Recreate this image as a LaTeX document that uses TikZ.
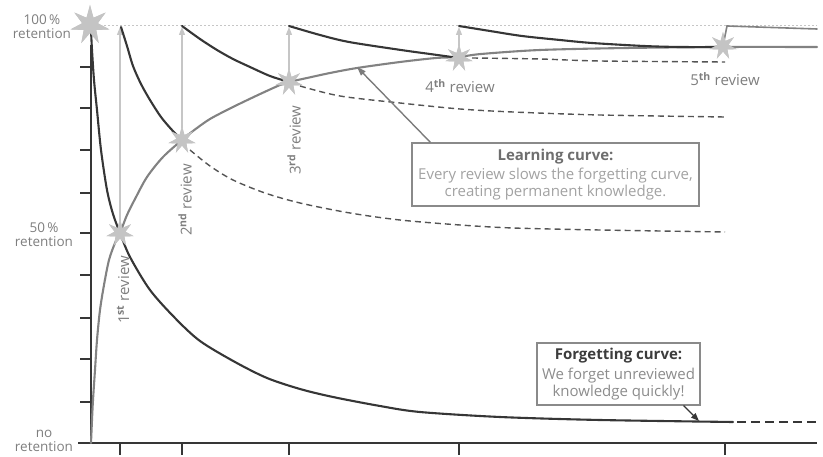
\documentclass[tikz,border=0pt]{standalone}
\usepackage{fontspec}
\setmainfont{Open Sans}
\usetikzlibrary{shapes.geometric,arrows.meta,calc}
\definecolor{dk}{HTML}{363636}
\definecolor{lc}{HTML}{828282}
\definecolor{st}{HTML}{C4C4C4}
\definecolor{ar}{HTML}{C6C6C6}
\definecolor{tx}{HTML}{7E7E7E}
\definecolor{bx}{HTML}{8A8A8A}
\definecolor{lbt}{HTML}{6E6E6E}
\definecolor{lbb}{HTML}{A2A2A2}
\definecolor{fbt}{HTML}{3C3C3C}
\definecolor{fbb}{HTML}{8C8C8C}
\begin{document}
\begin{tikzpicture}[x=1pt,y=-1pt,
  fcurve/.style={draw=dk, line width=2.1pt, line cap=round},
  lcurve/.style={draw=lc, line width=2.1pt, line cap=round},
  dcurve/.style={draw=dk!85, line width=1.4pt, dash pattern=on 6pt off 4pt},
  uparrow/.style={draw=ar, line width=1.1pt, -{Triangle[length=8pt,width=6pt]}},
  revstar/.style={star, star points=7, star point ratio=2.5, fill=st, draw=none, minimum size=28pt, inner sep=0pt},
  axisline/.style={draw=dk, line width=1.4pt},
  tickline/.style={draw=dk, line width=1.2pt},
  ylab/.style={text=tx, align=center, font=\fontsize{13.5}{14}\selectfont},
  revlab/.style={text=tx, font=\fontsize{15}{16}\selectfont},
  infobox/.style={draw=bx, line width=1.2pt, inner sep=0pt, align=center, font=\fontsize{15}{17}\selectfont}
]
\useasboundingbox (0,0) rectangle (823,457);

% dotted 100% line
\draw[ar, line width=0.9pt, dash pattern=on 1.5pt off 2.5pt] (104,25) -- (817,25);

% axes
\coordinate (ytop) at (91,45);
\coordinate (orig) at (91,443);
\coordinate (xl) at (78,443);
\coordinate (xr) at (817,443);
\draw[axisline] (ytop) -- (orig);
\draw[axisline] (xl) -- (xr);
\foreach \y in {67,108,150,193,233,275,318,359,402}
  \draw[tickline] (80,\y) -- (91,\y);
\foreach \x in {120,182,289,459,725}
  \draw[tickline] (\x,443) -- (\x,455);

% stars (nodes)
\node[revstar, minimum size=40pt] (s0) at (90,25) {};
\node[revstar] (s1) at (120,233) {};
\node[revstar] (s2) at (182,140) {};
\node[revstar] (s3) at (289,82) {};
\node[revstar] (s4) at (459,58) {};
\node[revstar] (s5) at (723,46) {};

% up arrows from reviews back to 100%
\coordinate (t1) at (120,27);
\coordinate (t2) at (182,27);
\coordinate (t3) at (289,27);
\coordinate (t4) at (459,27);
\draw[uparrow] (s1.center) ++(0,-12) -- (t1);
\draw[uparrow] (s2.center) ++(0,-12) -- (t2);
\draw[uparrow] (s3.center) ++(0,-12) -- (t3);
\draw[uparrow] (s4.center) ++(0,-12) -- (t4);

% dashed (untaken) forgetting continuations
\draw[dcurve] plot[smooth] coordinates {(190,150) (210,166) (233,180) (265,193) (300,203) (350,213) (400,220) (460,225) (513,228) (600,230) (725,232)};
\draw[dcurve] plot[smooth] coordinates {(300,86) (340,96) (400,103) (460,109) (513,112) (600,115) (725,117)};
\draw[dcurve] plot[smooth] coordinates {(472,58) (540,59) (600,61) (725,62)};

% learning curve
\draw[lcurve] plot[smooth] coordinates {(91,443) (92,420) (93,400) (95,370) (97,340) (100,310) (104,285) (109,260) (115,243) (120,233) (127,215) (135,199) (147,177) (163,157) (182,140) (193,131) (210,119) (233,107) (258,95) (280,85) (289,82) (307,78) (330,73) (357,68) (400,62) (436,58) (459,57) (481,54) (540,50) (626,48) (723,47) (817,47)};

% initial forgetting curve
\draw[fcurve] plot[smooth] coordinates {(91,30) (92,50) (94,80) (97,110) (101,150) (107,190) (113,214) (120,233) (130,257) (150,290) (175,318) (200,341) (235,362) (267,378) (300,389) (333,397) (380,406) (420,412) (500,417) (600,420) (733,422)};
\draw[fcurve, line cap=butt, dash pattern=on 9pt off 5pt] (737,422) -- (817,422);

% forgetting after each review
\draw[fcurve] plot[smooth] coordinates {(121,27) (127,46) (133,66) (141,84) (150,100) (161,117) (172,130) (182,140)};
\draw[fcurve] plot[smooth] coordinates {(182,26) (200,39) (217,50) (233,59) (250,67) (270,76) (289,82)};
\draw[fcurve] plot[smooth] coordinates {(289,26) (320,35) (349,42) (401,50) (430,54) (459,58)};
\draw[fcurve] plot[smooth] coordinates {(459,26) (490,31) (522,36) (560,40) (592,43) (644,46) (680,47) (723,47)};
\coordinate (f5a) at (727,26);
\coordinate (f5b) at (817,29);
\draw[lcurve, line width=1.6pt] (s5.center) -- (f5a) -- (f5b);

% redraw stars on top
\node[revstar, minimum size=40pt] at (s0) {};
\node[revstar] at (s1) {};
\node[revstar] at (s2) {};
\node[revstar] at (s3) {};
\node[revstar] at (s4) {};
\node[revstar] at (s5) {};

% y labels
\node[ylab] (l100) at (42,27) {100\,\%\\retention};
\node[ylab] (l50) at (44,235) {50\,\%\\retention};
\node[ylab] (l0) at (44,441) {no\\retention};

% review labels
\node[revlab, rotate=90] (r1) at (123,290) {1\textsuperscript{\bfseries st} review};
\node[revlab, rotate=90] (r2) at (185,200) {2\textsuperscript{\bfseries nd} review};
\node[revlab, rotate=90] (r3) at (294,140) {3\textsuperscript{\bfseries rd} review};
\node[revlab] (r4) at (460,86) {4\textsuperscript{\bfseries th} review};
\node[revlab] (r5) at (725,79) {5\textsuperscript{\bfseries th} review};

% learning curve box
\node[infobox, minimum width=287pt, minimum height=63pt] (lbox) at (555.5,174.5)
  {\textcolor{lbt}{\bfseries Learning curve:}\\[2pt]
   \textcolor{lbb}{Every review slows the forgetting curve,}\\
   \textcolor{lbb}{creating permanent knowledge.}};
\coordinate (la) at (357,67);
\draw[draw=bx!90!black, line width=1.4pt, -{Triangle[length=9pt,width=6pt]}] ($(lbox.north west)+(19,0)$) -- (la);

% forgetting curve box
\node[infobox, minimum width=163pt, minimum height=62pt] (fbox) at (618.5,374)
  {\textcolor{fbt}{\bfseries Forgetting curve:}\\[3pt]
   \textcolor{fbb}{We forget unreviewed}\\
   \textcolor{fbb}{knowledge quickly!}};
\coordinate (fa) at (699,421);
\draw[draw=dk, line width=1.4pt, -{Triangle[length=8pt,width=6pt]}] ($(fbox.south east)+(-17,0)$) -- (fa);

\end{tikzpicture}
\end{document}
